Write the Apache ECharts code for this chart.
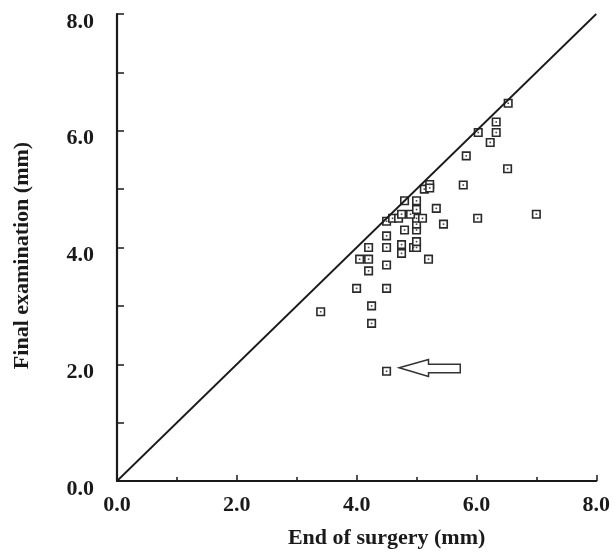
<!DOCTYPE html>
<html>
<head>
<meta charset="utf-8">
<script src="https://cdn.jsdelivr.net/npm/echarts@6/dist/echarts.min.js"></script>
<style>html,body{margin:0;padding:0;background:#fff;}#c{width:613px;height:554px;}</style>
</head>
<body>
<div id="c"></div>
<script>
// End of surgery (mm)
var surgery = [3.4, 4.25, 4.25, 4.0, 4.5, 4.2, 4.05, 4.2, 4.5, 4.2, 4.5, 4.5, 4.75, 4.75, 5.2, 4.95, 5.0, 5.0, 4.8, 5.0, 5.0, 4.5, 4.6, 4.7, 5.0, 5.1, 4.75, 4.9, 5.0, 5.33, 5.45, 4.8, 5.0, 5.13, 5.22, 5.22, 6.53, 6.33, 6.33, 6.03, 6.23, 5.83, 6.52, 5.78, 7.0, 6.02, 4.5];
// Final examination (mm)
var finalExam = [2.9, 3.0, 2.7, 3.3, 3.3, 3.6, 3.8, 3.8, 3.7, 4.0, 4.0, 4.2, 4.05, 3.9, 3.8, 4.0, 4.0, 4.1, 4.3, 4.3, 4.4, 4.45, 4.5, 4.5, 4.5, 4.5, 4.57, 4.57, 4.65, 4.67, 4.4, 4.8, 4.8, 5.0, 5.08, 5.02, 6.47, 6.15, 5.97, 5.97, 5.8, 5.57, 5.35, 5.07, 4.57, 4.5, 1.88];
// Identity line endpoints
var identityLine = [[0, 0], [8, 8]];
// Annotation arrow outline (data coordinates)
var arrowShape = [[4.71, 1.94], [5.2, 2.08], [5.2, 2.0], [5.73, 2.0], [5.73, 1.855], [5.2, 1.855], [5.2, 1.79]];
// Tick labels
var tickValues = [0, 2, 4, 6, 8];
var tickLabels = ['0.0', '2.0', '4.0', '6.0', '8.0'];

var points = surgery.map(function (x, i) { return [x, finalExam[i]]; });
function fmt(v) {
  var i = tickValues.indexOf(v);
  return i >= 0 ? tickLabels[i] : '';
}
var font = 'Liberation Serif';
var ink = '#1a1a1a';
function axisCommon() {
  return {
    type: 'value', min: 0, max: 8, interval: 1,
    axisLine: { show: true, onZero: false, lineStyle: { color: ink, width: 2.2 } },
    axisTick: { show: true, inside: true, length: 7, lineStyle: { color: ink, width: 1.5 } },
    splitLine: { show: false },
    axisLabel: { formatter: fmt, fontFamily: font, fontWeight: 'bold', fontSize: 22, color: ink },
    nameLocation: 'middle',
    nameTextStyle: { fontFamily: font, fontWeight: 'bold', fontSize: 22, color: ink }
  };
}
var xa = axisCommon();
xa.interval = 2;
xa.axisTick.length = 6;
xa.minorTick = { show: true, splitNumber: 2, length: 4, lineStyle: { color: ink, width: 1.5 } };
xa.name = 'End of surgery (mm)';
xa.nameGap = 46;
xa.nameTextStyle.padding = [0, 0, 0, 60];
xa.axisLabel.margin = 13;
var ya = axisCommon();
ya.name = 'Final examination (mm)';
ya.nameGap = 84;
ya.nameTextStyle.padding = [0, 16, 0, 0];
ya.axisLabel.margin = 23;
ya.axisLabel.verticalAlign = 'top';
ya.axisLabel.lineHeight = 16;

var chart = echarts.init(document.getElementById('c'), null, { renderer: 'canvas' });
chart.setOption({
  animation: false,
  backgroundColor: '#fff',
  grid: { left: 117, right: 16, top: 14, bottom: 70, containLabel: false },
  xAxis: xa,
  yAxis: ya,
  series: [
    {
      type: 'line', data: identityLine, symbol: 'none', silent: true,
      lineStyle: { color: ink, width: 1.8 }
    },
    {
      type: 'scatter', data: points, symbol: 'rect', symbolSize: 7.5, silent: true,
      itemStyle: { color: '#fff', borderColor: '#2a2a2a', borderWidth: 1.6, opacity: 1 }
    },
    {
      type: 'scatter', data: points, symbol: 'rect', symbolSize: 1.6, silent: true,
      itemStyle: { color: '#444', opacity: 1 }
    },
    {
      type: 'custom', silent: true, data: [arrowShape[0]],
      renderItem: function (params, api) {
        var pts = arrowShape.map(function (p) { return api.coord(p); });
        return {
          type: 'polygon',
          shape: { points: pts },
          style: { fill: '#fff', stroke: '#333', lineWidth: 1.5 }
        };
      }
    }
  ]
});
</script>
</body>
</html>
